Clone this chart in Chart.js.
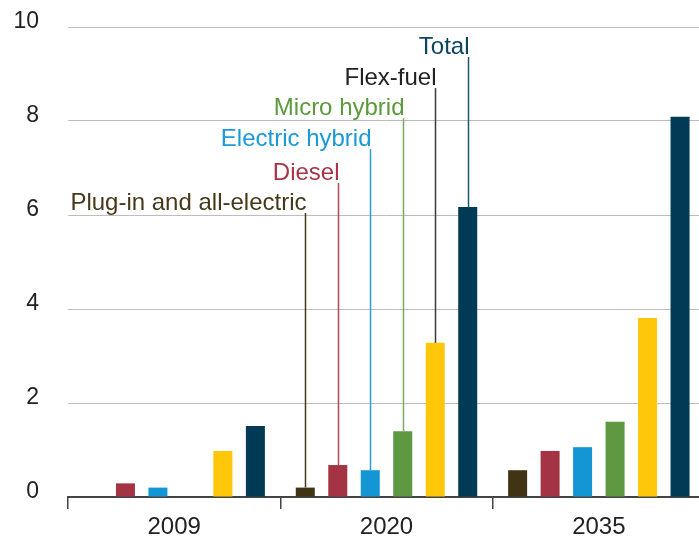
<!DOCTYPE html>
<html><head><meta charset="utf-8">
<script src="https://cdn.jsdelivr.net/npm/chart.js@4/dist/chart.umd.min.js"></script>
<style>html,body{margin:0;padding:0;background:#fff;overflow:hidden;width:699px;height:537px}canvas{display:block}</style>
</head><body>
<canvas id="c" width="705" height="537"></canvas>
<script>
const categories = ["2009", "2020", "2035"];
const seriesNames = ["Plug-in and all-electric", "Diesel", "Electric hybrid", "Micro hybrid", "Flex-fuel", "Total"];
const plugIn = [0, 0.2, 0.57];
const diesel = [0.29, 0.68, 0.98];
const electricHybrid = [0.2, 0.57, 1.06];
const microHybrid = [0, 1.4, 1.6];
const flexFuel = [0.98, 3.28, 3.81];
const total = [1.51, 6.17, 8.09];
const yTicks = [0, 2, 4, 6, 8, 10];

const barColors = ["#403414", "#a43343", "#1596d4", "#5e9841", "#ffc709", "#003a55"];
const textColors = ["#45391a", "#a83447", "#1a9ad6", "#5c9a3e", "#222222", "#0b4560"];
const lineColors = ["#45391a", "#b04a58", "#2aa0d8", "#7aab62", "#3a3a3a", "#1e5470"];
const labelLevels = [6.04, 6.68, 7.4, 8.06, 8.7, 9.36];

const seriesValues = [plugIn, diesel, electricHybrid, microHybrid, flexFuel, total];
const FONT = '"Liberation Sans", Arial, sans-serif';

const annot = {
  id: 'annot',
  afterDatasetsDraw(chart) {
    const ctx = chart.ctx, y = chart.scales.y;
    ctx.save();
    ctx.font = '24px ' + FONT;
    ctx.textAlign = 'right';
    ctx.textBaseline = 'alphabetic';
    seriesNames.forEach((name, i) => {
      const bar = chart.getDatasetMeta(i).data[1];
      const x = Math.round(bar.x) + 0.5;
      const top = y.getPixelForValue(labelLevels[i]);
      ctx.strokeStyle = lineColors[i];
      ctx.lineWidth = 1.5;
      ctx.beginPath();
      ctx.moveTo(x, top);
      ctx.lineTo(x, bar.y);
      ctx.stroke();
      ctx.fillStyle = textColors[i];
      ctx.fillText(name, x + 1, top - 3);
    });
    ctx.restore();
  }
};

new Chart(document.getElementById('c'), {
  type: 'bar',
  data: {
    labels: categories,
    datasets: seriesNames.map((n, i) => ({
      label: n,
      data: seriesValues[i],
      backgroundColor: barColors[i],
      borderWidth: 0,
      categoryPercentage: 0.918,
      barPercentage: 0.585
    }))
  },
  options: {
    responsive: false,
    animation: false,
    devicePixelRatio: 1,
    layout: { padding: { top: 27, right: 0, left: 0, bottom: 0 } },
    plugins: { legend: { display: false }, tooltip: { enabled: false } },
    scales: {
      x: {
        afterFit(s) { s.height = 40; s.paddingLeft = 0; s.paddingRight = 0; },
        grid: { display: true, drawOnChartArea: false, drawTicks: true, tickLength: 12, color: '#444', lineWidth: 1.5, offset: true },
        border: { display: true, color: '#444', width: 2 },
        ticks: { color: '#222', padding: 4, font: { size: 24, family: FONT } }
      },
      y: {
        min: 0, max: 10,
        afterFit(s) { s.width = 68; s.paddingTop = 0; s.paddingBottom = 0; },
        afterBuildTicks(s) { s.ticks = yTicks.map(v => ({ value: v })); },
        grid: { color: '#bdbdbd', lineWidth: 1, drawTicks: false },
        border: { display: false },
        ticks: { color: '#222', padding: 29, labelOffset: -5, font: { size: 23, family: FONT } }
      }
    }
  },
  plugins: [annot]
});
</script>
</body></html>
